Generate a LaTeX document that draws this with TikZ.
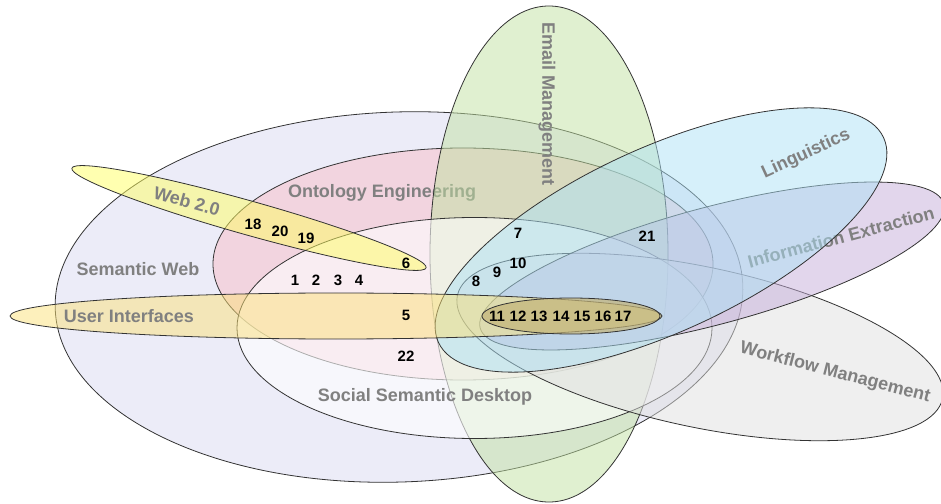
\documentclass[tikz,border=0pt]{standalone}
\usepackage{fontspec}
\setmainfont{Liberation Sans}
\definecolor{swfill}{RGB}{236,236,248}
\definecolor{oefill}{RGB}{248,190,200}
\definecolor{emfill}{RGB}{193,225,161}
\definecolor{lifill}{RGB}{173,225,245}
\definecolor{iefill}{RGB}{197,173,217}
\definecolor{wffill}{RGB}{223,223,223}
\definecolor{wtfill}{RGB}{255,255,97}
\definecolor{uifill}{RGB}{251,225,121}
\definecolor{khfill}{RGB}{195,180,120}
\definecolor{labelgray}{RGB}{128,128,128}
\begin{document}
\begin{tikzpicture}[x=1bp,y=-1bp,
  venn/.style={draw=black!80, line width=0.8bp},
  tint/.style={venn, fill=#1, fill opacity=0.5},
  area/.style={font=\fontsize{18bp}{20bp}\selectfont\bfseries, text=labelgray, inner sep=0pt},
  num/.style={font=\fontsize{15bp}{17bp}\selectfont\bfseries, text=black, inner sep=0pt}]
\useasboundingbox (0,0) rectangle (941,504);
\clip (0,0) rectangle (941,504);

% Semantic Web
\draw[venn, fill=swfill, rotate around={2:(399,297)}] (399,297) ellipse [x radius=344bp, y radius=185bp];
\node[area] (lsw) at (138,269) {Semantic Web};

% Ontology Engineering
\draw[tint=oefill] (463,264) ellipse [x radius=250bp, y radius=116bp];
\node[area] (loe) at (382,193) {Ontology Engineering};

% Email Management
\draw[tint=emfill] (549,254) ellipse [x radius=119bp, y radius=248bp];
\node[area, rotate=-90] (lem) at (547,104) {Email Management};

% Social Semantic Desktop
\draw[venn, fill=white, fill opacity=0.6] (474.5,328) ellipse [x radius=237.5bp, y radius=110.5bp];
\node[area] (lssd) at (425,397) {Social Semantic Desktop};

% Workflow Management
\draw[tint=wffill, rotate around={-12:(700,347)}] (700,347) ellipse [x radius=248bp, y radius=80bp];
\node[area, rotate=-14.5] (lwf) at (835,373) {Workflow Management};

% Information Extraction
\draw[tint=iefill, rotate around={15:(712,266)}] (712,266) ellipse [x radius=240bp, y radius=58.5bp];
\node[area, rotate=15] (lie) at (841,237) {Information Extraction};

% Linguistics
\draw[tint=lifill, rotate around={24.7:(661,240)}] (661,240) ellipse [x radius=245bp, y radius=92bp];
\node[area, rotate=24.7] (lli) at (806,154) {Linguistics};

% Web 2.0
\draw[tint=wtfill, rotate around={-15.7:(249,218)}] (249,218) ellipse [x radius=184bp, y radius=17bp];
\node[area, rotate=-15.7] (lwt) at (187,201) {Web 2.0};

% User Interfaces
\draw[tint=uifill] (336,316) ellipse [x radius=326bp, y radius=23bp];
\node[area] (lui) at (129,316) {User Interfaces};

% core overlap holding projects 11--17
\draw[venn, fill=khfill, fill opacity=0.7] (571,316) ellipse [x radius=89bp, y radius=18bp];

% project numbers
\node[num] (n1) at (295,280) {1};
\node[num] (n2) at (316,280) {2};
\node[num] (n3) at (338,280) {3};
\node[num] (n4) at (359,280) {4};
\node[num] (n5) at (406,315) {5};
\node[num] (n6) at (406,263) {6};
\node[num] (n7) at (518,233) {7};
\node[num] (n8) at (476,281) {8};
\node[num] (n9) at (497,272) {9};
\node[num] (n10) at (518,263) {10};
\node[num] (n11) at (497,316) {11};
\node[num] (n12) at (518,316) {12};
\node[num] (n13) at (539,316) {13};
\node[num] (n14) at (561,316) {14};
\node[num] (n15) at (582,316) {15};
\node[num] (n16) at (603,316) {16};
\node[num] (n17) at (623,316) {17};
\node[num] (n18) at (253,224) {18};
\node[num] (n19) at (306,238) {19};
\node[num] (n20) at (280,231) {20};
\node[num] (n21) at (647,236) {21};
\node[num] (n22) at (406,356) {22};
\end{tikzpicture}
\end{document}
